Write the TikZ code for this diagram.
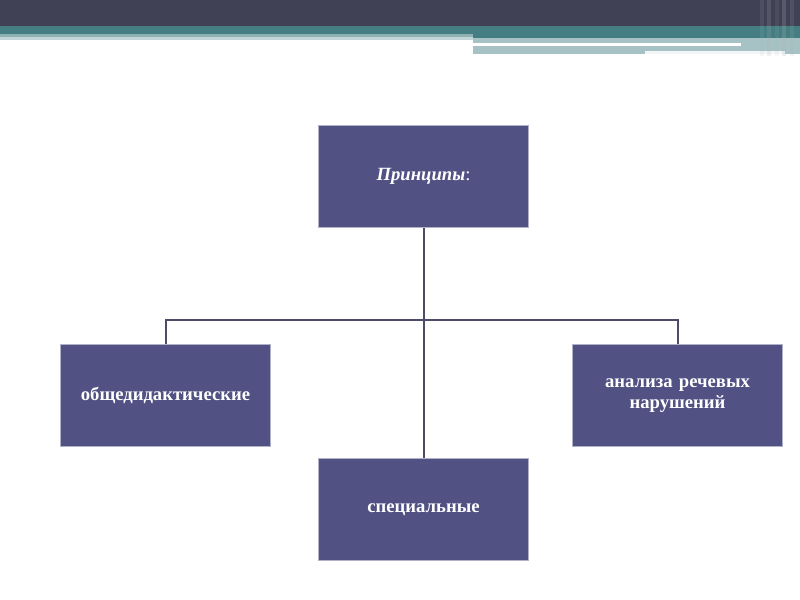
\documentclass[tikz,border=0pt]{standalone}
\usepackage{fontspec}
\setmainfont{Liberation Serif}
\definecolor{headdark}{HTML}{414156}
\definecolor{headteal}{HTML}{447E82}
\definecolor{headlight}{HTML}{A6C2C4}
\definecolor{boxfill}{HTML}{515184}
\definecolor{linkline}{HTML}{4C4C68}
\begin{document}
\begin{tikzpicture}[x=0.75pt,y=-0.75pt,
    principle/.style={draw=boxfill!45!white, line width=0.6pt, fill=boxfill,
      minimum width=157pt, minimum height=77pt, text width=140pt, align=center,
      text=white, font=\fontsize{14}{15.5}\selectfont\bfseries},
    link/.style={draw=linkline, line width=1.5pt}]
  \useasboundingbox (0,0) rectangle (800,600);
  % HEADER BANDS
  \fill[white] (0,0) rectangle (800,600);
  \fill[headdark] (0,0) rectangle (800,26);
  \fill[headteal] (0,26) rectangle (473,34);
  \fill[headteal!60!white] (0,34) rectangle (473,37);
  \fill[headlight!70!white] (0,37) rectangle (473,40);
  \fill[headteal] (473,26) rectangle (800,38);
  \fill[headlight] (473,38) rectangle (800,54);
  \fill[white] (473,43) rectangle (741,46);
  \fill[white!85!headlight] (645,51) rectangle (785,54);
  \foreach \xs/\op in {760/0.12,767/0.18,775/0.1,782/0.22,790/0.15}
    \fill[gray!60!white, opacity=\op] (\xs,0) rectangle (\xs+4,56);
  % PRINCIPLES
  \node[principle] (head)    at (423.5,176.5) {\textit{Принципы}\textmd{:}};
  \node[principle] (general) at (165.5,395.5) {общедидактические};
  \node[principle] (speech)  at (677.5,395.5) {анализа речевых нарушений};
  \node[principle] (special) at (423.5,509.5) {специальные};
  % LINKS
  \coordinate (bar) at (423.5,320);
  \draw[link] (head.south) -- (special.north);
  \draw[link] (general.north) |- (bar) -| (speech.north);
\end{tikzpicture}
\end{document}
